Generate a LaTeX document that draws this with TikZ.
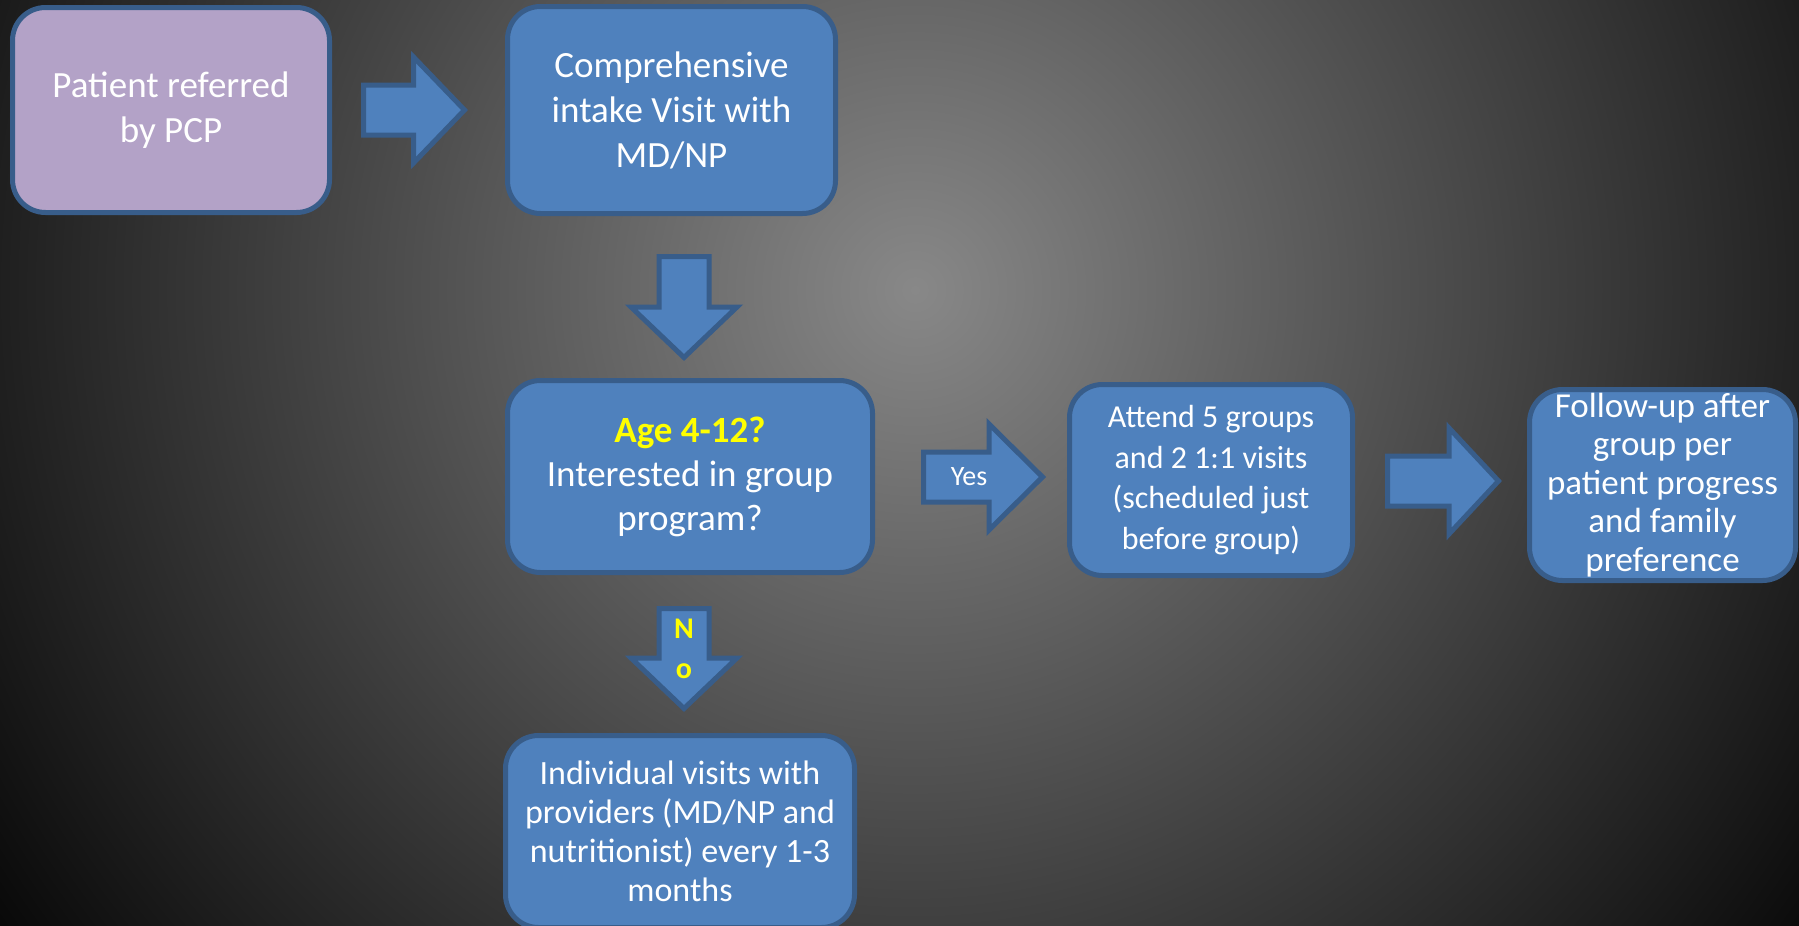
\documentclass[tikz,border=0pt]{standalone}
\usepackage{fontspec}
\setmainfont{Carlito}
\definecolor{boxblue}{RGB}{79,129,189}
\definecolor{boxedge}{RGB}{56,93,138}
\definecolor{boxlilac}{RGB}{179,162,199}
\definecolor{bgmid}{RGB}{136,136,136}
\definecolor{askyellow}{RGB}{255,255,0}
\tikzset{
  flowbox/.style={draw=boxedge, fill=boxblue, line width=5pt, rounded corners=33pt,
    text=white, align=center, inner sep=0pt},
  arrowbody/.style={draw=boxedge, fill=boxblue, line width=5pt, line join=miter},
  pics/blockarrow/.style args={#1/#2}{code={
    \draw[arrowbody] (0,-25) -- (#1,-25) -- (#1,-53) -- (#2,0) -- (#1,53) -- (#1,25) -- (0,25) -- cycle;
  }}
}
\begin{document}
\begin{tikzpicture}[x=1pt,y=1pt]
        \useasboundingbox (0,0) rectangle (1799,-926);
        \begin{scope}
          \clip (0,0) rectangle (1799,-926);
          \fill[black] (0,0) rectangle (1799,-926);
          \shade[inner color=bgmid, outer color=black] (915,-290) circle (1190);
        \end{scope}
        \node (refer) at (171,-110) [flowbox, fill=boxlilac, minimum width=317pt, minimum height=205pt,
           font=\fontsize{37}{45}\selectfont] {Patient referred\\by PCP};
        \node (intake) at (671.5,-110) [flowbox, minimum width=328pt, minimum height=207pt,
           font=\fontsize{37}{45}\selectfont] {Comprehensive\\intake Visit with\\MD/NP};
        \node (askage) at (690,-476.5) [flowbox, minimum width=365pt, minimum height=192pt,
           font=\fontsize{37}{44}\selectfont] {{\bfseries\color{askyellow}Age 4-12?}\\Interested in group\\program?};
        \node (groups) at (1211,-480) [flowbox, minimum width=283pt, minimum height=191pt,
           font=\fontsize{32}{40.5}\selectfont] {Attend 5 groups\\and 2 1:1 visits\\(scheduled just\\before group)};
        \node (follow) at (1662.5,-485) [flowbox, minimum width=266pt, minimum height=191pt,
           font=\fontsize{35}{38.5}\selectfont] {Follow-up after\\group per\\patient progress\\and family\\preference};
        \node (single) at (680,-831.5) [flowbox, minimum width=349pt, minimum height=192pt,
           font=\fontsize{34}{39}\selectfont] {Individual visits with\\providers (MD/NP and\\nutritionist) every 1-3\\months};
        \pic at (363.5,-110) {blockarrow=50/101};
        \pic[rotate=-90] at (684,-256.5) {blockarrow=50.5/101};
        \pic at (923.5,-477) {blockarrow=65.5/119};
        \pic at (1387.5,-481) {blockarrow=61.5/111};
        \pic[rotate=-90] at (684,-608.5) {blockarrow=49.5/100};
        \node (yes) at (969,-477) [text=white, font=\fontsize{28}{34}\selectfont] {Yes};
        \node (no) at (684,-649) [text=askyellow, align=center, font=\bfseries\fontsize{30}{40}\selectfont] {N\\o};
\end{tikzpicture}
\end{document}
